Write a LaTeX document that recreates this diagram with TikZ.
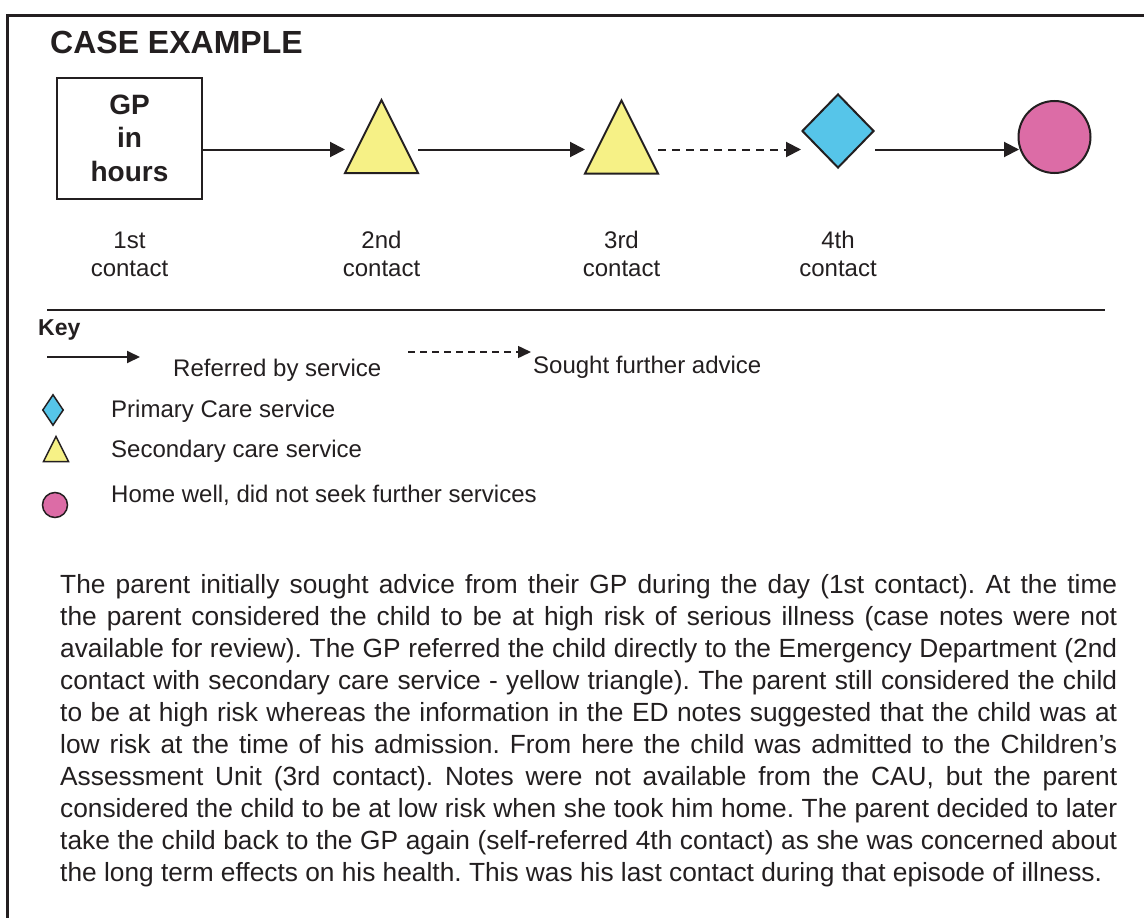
\documentclass[tikz,border=0pt]{standalone}
\usepackage{fontspec}
\setmainfont{Liberation Sans}
\usetikzlibrary{arrows.meta,shapes.geometric}
\definecolor{ink}{HTML}{231F20}
\definecolor{triyel}{RGB}{246,241,134}
\definecolor{diablue}{RGB}{86,197,233}
\definecolor{cirpink}{RGB}{220,108,166}
\frenchspacing
\begin{document}
\begin{tikzpicture}[x=1pt,y=-1pt,
  conn/.style={draw=ink, line width=2pt, -{Triangle[length=15pt,width=15pt]}},
  dconn/.style={conn, dash pattern=on 8pt off 6pt},
  keyconn/.style={draw=ink, line width=2pt, -{Triangle[length=13pt,width=12pt]}},
  keydconn/.style={draw=ink, line width=1.5pt, dash pattern=on 7pt off 5pt, -{Triangle[length=13pt,width=12pt]}},
  shapeln/.style={draw=ink, line width=2pt, line join=miter},
  tribox/.style={minimum width=73pt, minimum height=73pt, inner sep=0pt, outer sep=0pt},
  ktribox/.style={minimum width=25pt, minimum height=25pt, inner sep=0pt, outer sep=0pt},
  lbl/.style={font=\fontsize{24}{28}\selectfont, align=center, inner sep=0pt, anchor=north, text=ink},
  keytxt/.style={font=\fontsize{24}{28}\selectfont, inner sep=0pt, anchor=base west, text=ink},
]
\useasboundingbox (0,0) rectangle (1144,918);
\fill[white] (0,0) rectangle (1144,918);
% frame
\draw[ink, line width=3pt] (7.5,930) -- (7.5,15) -- (1160,15);
% title
\node[font=\bfseries\fontsize{32}{38}\selectfont, inner sep=0pt, anchor=base west, text=ink] (title) at (50,53) {CASE EXAMPLE};
% flow nodes
\node[draw=ink, line width=2pt, minimum width=145pt, minimum height=121pt, inner sep=0pt,
      align=center, font=\bfseries\fontsize{28}{33.5}\selectfont, text=ink] (gp) at (129.5,138) {GP\\in\\hours};
\node[tribox] (t1) at (381.5,136.5) {};
\draw[shapeln, fill=triyel] (t1.north) -- (t1.south east) -- (t1.south west) -- cycle;
\node[tribox] (t2) at (621.5,137) {};
\draw[shapeln, fill=triyel] (t2.north) -- (t2.south east) -- (t2.south west) -- cycle;
\node[diamond, shapeln, fill=diablue, minimum width=72pt, minimum height=74pt, inner sep=0pt] (d4) at (838,131) {};
\node[circle, shapeln, fill=cirpink, minimum size=72pt, inner sep=0pt] (c5) at (1054.5,137) {};
\coordinate (row) at (0,149.5);
\draw[conn] (gp.east |- row) -- (t1.west |- row);
\draw[conn] (t1.east |- row) -- (t2.west |- row);
\draw[dconn] (t2.east |- row) -- (d4.west |- row);
\draw[conn] (d4.east |- row) -- ([xshift=1.5pt]c5.west |- row);
% labels
\node[lbl] (l1) at (129.5,228) {\rule{0pt}{20pt}1st\\contact};
\node[lbl] (l2) at (381.5,228) {\rule{0pt}{20pt}2nd\\contact};
\node[lbl] (l3) at (621.5,228) {\rule{0pt}{20pt}3rd\\contact};
\node[lbl] (l4) at (838,228) {\rule{0pt}{20pt}4th\\contact};
% separator
\draw[ink, line width=2pt] (47,310) -- (1105,310);
% key
\node[font=\bfseries\fontsize{23}{27}\selectfont, inner sep=0pt, anchor=base west, text=ink] (keyhd) at (38,335) {Key};
\coordinate (ka1) at (47,357);
\coordinate (ka2) at (140,357);
\draw[keyconn] (ka1) -- (ka2);
\node[keytxt] (kt1) at (173,376) {Referred by service};
\coordinate (kb1) at (408,352);
\coordinate (kb2) at (531,352);
\draw[keydconn] (kb1) -- (kb2);
\node[keytxt] (kt2) at (533,373) {Sought further advice};
\node[diamond, draw=ink, line width=1.5pt, fill=diablue, minimum width=21pt, minimum height=31pt, inner sep=0pt] (kd) at (53,410) {};
\node[keytxt] (kt3) at (111,417) {Primary Care service};
\node[ktribox] (ktr) at (56,449) {};
\draw[draw=ink, line width=1.5pt, line join=miter, fill=triyel] (ktr.north) -- (ktr.south east) -- (ktr.south west) -- cycle;
\node[keytxt] (kt4) at (111,457) {Secondary care service};
\node[circle, draw=ink, line width=1.5pt, fill=cirpink, minimum size=25pt, inner sep=0pt] (kc) at (55,505) {};
\node[keytxt] (kt5) at (111,502) {Home well, did not seek further services};
% paragraph
\node[text width=1057pt, inner sep=0pt, anchor=north west, align=justify, text=ink,
      font=\fontsize{26.3}{32}\selectfont] (para) at (60,569)
{\tolerance=10000\hyphenpenalty=10000\rule{0pt}{24pt}The parent initially sought advice from their GP during the day (1st contact). At the time\linebreak
the parent considered the child to be at high risk of serious illness (case notes were not\linebreak
available for review). The GP referred the child directly to the Emergency Department (2nd\linebreak
contact with secondary care service - yellow triangle). The parent still considered the child\linebreak
to be at high risk whereas the information in the ED notes suggested that the child was at\linebreak
low risk at the time of his admission. From here the child was admitted to the Children’s\linebreak
Assessment Unit (3rd contact). Notes were not available from the CAU, but the parent\linebreak
considered the child to be at low risk when she took him home. The parent decided to later\linebreak
take the child back to the GP again (self-referred 4th contact) as she was concerned about\linebreak
the long term effects on his health. This was his last contact during that episode of illness.};
\end{tikzpicture}
\end{document}
